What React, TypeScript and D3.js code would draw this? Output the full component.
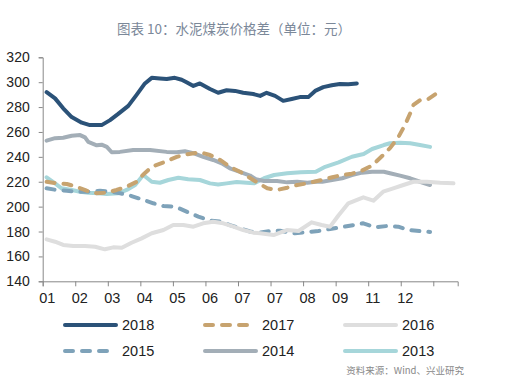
import React, { useEffect, useRef } from 'react'
import * as d3 from 'd3'

// x = month position (0 = "01" tick), y = 元
const s2018: [number, number][] = [
  [0.12, 292], [0.38, 287], [0.63, 279], [0.89, 272], [1.2, 267.5], [1.45, 265.5], [1.81, 265.5],
  [2.07, 269.5], [2.32, 274.5], [2.63, 281], [2.89, 290], [3.14, 299], [3.35, 303.5], [3.6, 303],
  [3.81, 302.5], [4.06, 303.5], [4.27, 302], [4.42, 300], [4.63, 297], [4.83, 299], [5.14, 294.5],
  [5.39, 291.5], [5.65, 293.5], [5.91, 293], [6.16, 291.5], [6.47, 290.5], [6.68, 289], [6.88, 291.5],
  [7.14, 289], [7.39, 285], [7.65, 286.5], [7.9, 288], [8.16, 288], [8.37, 293], [8.62, 296],
  [8.88, 297.5], [9.13, 298.5], [9.39, 298.3], [9.65, 299]
]
const s2017: [number, number][] = [
  [0.12, 220], [0.43, 218.7], [0.74, 218.2], [1.04, 216], [1.35, 212.8], [1.66, 210.7], [1.97, 211.2],
  [2.27, 213.4], [2.58, 216], [2.89, 220], [3.1, 226], [3.35, 232], [3.76, 236], [4.12, 240],
  [4.42, 242], [4.83, 243.7], [5.14, 241.5], [5.45, 237.5], [5.75, 232], [6.06, 228], [6.19, 226],
  [6.49, 221], [6.9, 214.7], [7.2, 213.4], [7.51, 215.2], [7.82, 217.4], [8.13, 218.7], [8.5, 221],
  [8.9, 223.6], [9.13, 225], [9.5, 226.5], [9.81, 229], [10.12, 233], [10.46, 241.5], [10.67, 247],
  [10.93, 256], [11.13, 265.6], [11.29, 275], [11.39, 281.7], [11.6, 285.7], [11.85, 286.5], [12.15, 291.9]
]
const s2016: [number, number][] = [
  [0.12, 173.7], [0.38, 171.8], [0.63, 169.2], [0.94, 168.4], [1.3, 168.4], [1.61, 167.8], [1.91, 165.7],
  [2.17, 167.3], [2.43, 167], [2.73, 171], [3.04, 174.5], [3.35, 178.6], [3.71, 181.2], [4.01, 185.2],
  [4.32, 185.2], [4.63, 183.9], [4.93, 186.6], [5.24, 187.9], [5.55, 186.6], [5.86, 183.9], [6.16, 181.2],
  [6.47, 179.1], [6.68, 178.6], [7.09, 177.2], [7.5, 181.2], [7.86, 180.4], [8.26, 187.4], [8.57, 185.2],
  [8.83, 183.9], [9.08, 192.7], [9.39, 202.7], [9.85, 207.5], [10.16, 204.8], [10.46, 212], [10.77, 214.7],
  [11.08, 217.4], [11.39, 220], [11.8, 220], [12.21, 219.2], [12.62, 218.7]
]
const s2015: [number, number][] = [
  [0.12, 214.7], [0.43, 213.4], [0.74, 212.8], [1.04, 212], [1.4, 212], [1.76, 212.8], [2.07, 212],
  [2.38, 210.7], [2.73, 208.5], [3.04, 205.9], [3.4, 202.7], [3.71, 200.5], [4.07, 200], [4.42, 196],
  [4.78, 192], [5.14, 188.7], [5.45, 188], [5.75, 185.2], [6.06, 182.6], [6.37, 180], [6.63, 179],
  [6.98, 180.4], [7.29, 180.6], [7.75, 178.6], [8.11, 179.4], [8.47, 180.4], [8.83, 182], [9.29, 184],
  [9.85, 186.6], [10.21, 183.4], [10.57, 184.4], [10.92, 183.9], [11.23, 181.2], [11.59, 180.4], [11.9, 179.6]
]
const s2014: [number, number][] = [
  [0.12, 253], [0.38, 255], [0.63, 255.4], [0.89, 257], [1.15, 257.5], [1.3, 255.7], [1.4, 252],
  [1.66, 249.3], [1.81, 249.8], [1.97, 248], [2.12, 243.7], [2.37, 244], [2.78, 245.5], [3.3, 245.5],
  [3.81, 244], [4.12, 243.7], [4.37, 244.5], [4.63, 243], [4.93, 240], [5.24, 237.5], [5.5, 234.8],
  [5.75, 230.8], [6.06, 228], [6.37, 225], [6.55, 222], [6.8, 220.6], [7.2, 220.6], [7.51, 219.5],
  [7.82, 220], [8.13, 219.2], [8.39, 220], [8.59, 220], [8.89, 221.4], [9.2, 222.8], [9.5, 225.4],
  [9.81, 227.3], [10.12, 228], [10.48, 228], [10.67, 226.8], [10.98, 224.9], [11.29, 222.8], [11.59, 220],
  [11.9, 217.4]
]
const s2013: [number, number][] = [
  [0.12, 223.6], [0.38, 218.7], [0.58, 214.7], [0.89, 213.4], [1.15, 212], [1.4, 211.2], [1.71, 210.7],
  [1.97, 210.1], [2.32, 210.7], [2.58, 213.4], [2.84, 217.4], [3.09, 225.4], [3.35, 220], [3.6, 219.2],
  [3.86, 221.4], [4.17, 223.2], [4.47, 222], [4.83, 221.4], [5.14, 218.7], [5.39, 217.8], [5.65, 218.7],
  [5.96, 219.8], [6.27, 219.2], [6.49, 218.7], [6.8, 222.8], [7.11, 225.4], [7.51, 226.8], [7.93, 227.6],
  [8.39, 228], [8.68, 232], [9.09, 235.6], [9.5, 240.1], [9.86, 242.3], [10.12, 246.3], [10.48, 249.5],
  [10.67, 250.9], [10.98, 251.4], [11.29, 250.9], [11.59, 249.5], [11.9, 248]
]

const xLabels = ['01', '02', '03', '04', '05', '06', '07', '07', '08', '09', '11', '12']
const yTicks = [140, 160, 180, 200, 220, 240, 260, 280, 300, 320]

const series = [
  { name: '2013', data: s2013, color: '#a6d6da', dash: null },
  { name: '2014', data: s2014, color: '#a3aeb7', dash: null },
  { name: '2015', data: s2015, color: '#7ea2b9', dash: '8,9' },
  { name: '2016', data: s2016, color: '#dedede', dash: null },
  { name: '2017', data: s2017, color: '#c7a36f', dash: '8,9' },
  { name: '2018', data: s2018, color: '#2b5278', dash: null }
]
const legendOrder = ['2018', '2017', '2016', '2015', '2014', '2013']

const W = 521
const H = 388
const font = '"Liberation Sans", Arial, sans-serif'

export default function App() {
  const svgRef = useRef<SVGSVGElement>(null)

  useEffect(() => {
    if (!svgRef.current) return
    const svg = d3.select(svgRef.current)
    svg.selectAll('*').remove()

    svg.append('rect').attr('width', W).attr('height', H).attr('fill', '#fff')

    const x = d3.scaleLinear().domain([0, 12.75]).range([42.7, 457.7])
    const y = d3.scaleLinear().domain([140, 320]).range([281.3, 57.3])

    // 標題
    svg.append('text')
      .attr('x', 234).attr('y', 34)
      .attr('text-anchor', 'middle')
      .style('font-family', '"Noto Sans CJK SC", sans-serif')
      .style('font-size', '13.5px')
      .style('fill', '#7b8899')
      .text('图表 10：水泥煤炭价格差（单位：元）')

    // 軸
    const yAxis = svg.append('g')
      .attr('transform', `translate(${x(0)},0)`)
      .call(d3.axisLeft(y).tickValues(yTicks).tickSize(4).tickPadding(9).tickFormat(d3.format('d')))
    yAxis.selectAll('text').style('font-family', font).style('font-size', '14px').style('fill', '#222')

    const xAxis = svg.append('g')
      .attr('transform', `translate(0,${y(140)})`)
      .call(d3.axisBottom(x).tickValues(d3.range(13)).tickSize(5).tickPadding(6)
        .tickFormat((d) => xLabels[d as number] ?? ''))
    xAxis.selectAll('text').attr('dx', 4).style('font-family', font).style('font-size', '14.5px').style('fill', '#222')

    svg.selectAll('.domain').attr('stroke', '#888').attr('stroke-width', 1)
    svg.selectAll('.tick line').attr('stroke', '#888')

    // 折線
    const line = d3.line<[number, number]>()
      .x(d => x(d[0]))
      .y(d => y(d[1]))

    series.forEach(s => {
      svg.append('path')
        .datum(s.data)
        .attr('d', line)
        .attr('fill', 'none')
        .attr('stroke', s.color)
        .attr('stroke-width', 4)
        .attr('stroke-linejoin', 'round')
        .attr('stroke-linecap', 'round')
        .attr('stroke-dasharray', s.dash)
    })

    // 圖例
    const lg = svg.append('g')
    legendOrder.forEach((name, i) => {
      const s = series.find(d => d.name === name)!
      const col = i % 3
      const row = Math.floor(i / 3)
      const lx = 65 + col * 140
      const ly = 325 + row * 26
      lg.append('line')
        .attr('x1', lx).attr('x2', lx + 51)
        .attr('y1', ly).attr('y2', ly)
        .attr('stroke', s.color)
        .attr('stroke-width', 4)
        .attr('stroke-linecap', 'round')
        .attr('stroke-dasharray', s.dash)
      lg.append('text')
        .attr('x', lx + 57).attr('y', ly + 5)
        .style('font-family', font)
        .style('font-size', '14.5px')
        .style('fill', '#222')
        .text(name)
    })

    svg.append('text')
      .attr('x', 464).attr('y', 374)
      .attr('text-anchor', 'end')
      .style('font-family', '"Noto Sans CJK SC", sans-serif')
      .style('font-size', '9.5px')
      .style('fill', '#888')
      .text('资料来源：Wind、兴业研究')
  }, [])

  return (
    <div style={{ position: 'absolute', left: 0, top: 0 }}>
      <svg ref={svgRef} width={W} height={H} style={{ display: 'block' }} />
    </div>
  )
}
